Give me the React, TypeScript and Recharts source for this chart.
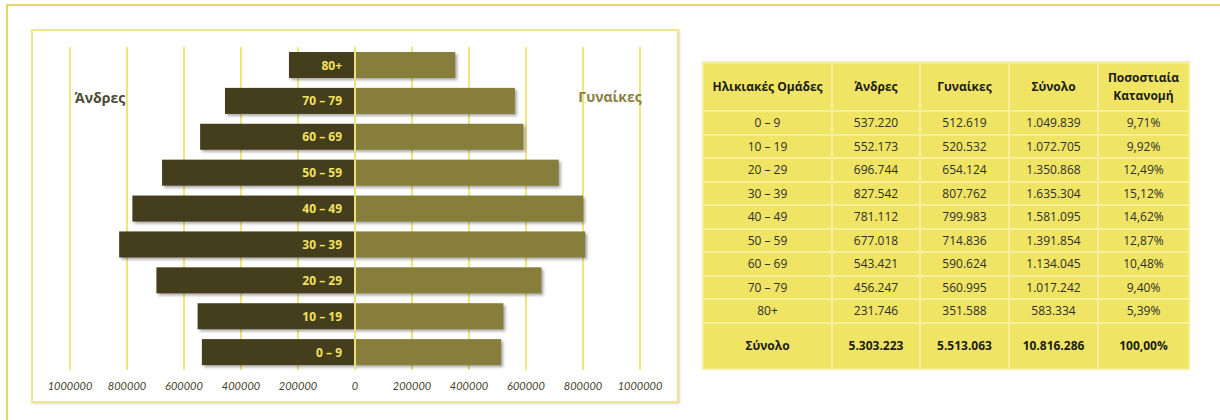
import { BarChart, Bar, XAxis, YAxis, CartesianGrid, ReferenceLine, LabelList } from 'recharts';

// Πληθυσμός ανά ηλικιακή ομάδα και φύλο
const ageGroups = ['0 – 9', '10 – 19', '20 – 29', '30 – 39', '40 – 49', '50 – 59', '60 – 69', '70 – 79', '80+'];
const men = [537220, 552173, 696744, 827542, 781112, 677018, 543421, 456247, 231746];
const women = [512619, 520532, 654124, 807762, 799983, 714836, 590624, 560995, 351588];
const totals = [1049839, 1072705, 1350868, 1635304, 1581095, 1391854, 1134045, 1017242, 583334];
const percents = ['9,71%', '9,92%', '12,49%', '15,12%', '14,62%', '12,87%', '10,48%', '9,40%', '5,39%'];
const grandTotals = ['5.303.223', '5.513.063', '10.816.286', '100,00%'];
const headers = ['Ηλικιακές Ομάδες', 'Άνδρες', 'Γυναίκες', 'Σύνολο', 'Ποσοστιαία Κατανομή'];
const xTicks = [-1000000, -800000, -600000, -400000, -200000, 0, 200000, 400000, 600000, 800000, 1000000];

const MEN = '#453e1d';
const WOMEN = '#877e3b';
const GRID = '#f0e47c';
const GREEK = '"Open Sans", "Noto Sans", sans-serif';

const data = ageGroups.map((age, i) => ({ age, men: -men[i], women: women[i] }));

const fmt = (n: number) => String(n).replace(/\B(?=(\d{3})+(?!\d))/g, '.');

function ShadowBar(props: any) {
  const { x, y, width, height, fill } = props;
  const x0 = width < 0 ? x + width : x;
  return (
    <rect
      x={x0}
      y={y}
      width={Math.abs(width)}
      height={height}
      fill={fill}
      style={{ filter: 'drop-shadow(2px 2px 1.5px rgba(0,0,0,0.35))' }}
    />
  );
}

function AgeLabel(props: any) {
  const { x, y, width, height, value } = props;
  const right = Math.max(x, x + width);
  return (
    <text
      x={right - 13}
      y={y + height / 2}
      textAnchor="end"
      dominantBaseline="central"
      fill="#f3e35c"
      fontFamily={GREEK}
      fontWeight={700}
      fontSize={12}
    >
      {value}
    </text>
  );
}

const cell: React.CSSProperties = {
  border: '2px solid #f7ee9c',
  textAlign: 'center',
  padding: 0,
  color: '#2e2e2a',
};

export default function App() {
  return (
    <div style={{ position: 'absolute', left: 0, top: 0, width: 1220, height: 420, overflow: 'hidden', background: '#fff' }}>
      {/* outer frame */}
      <div style={{ position: 'absolute', left: 6, top: 4, width: 1214, height: 2, background: '#e2d56a' }} />
      <div style={{ position: 'absolute', left: 6, top: 4, width: 2, height: 416, background: '#e2d56a' }} />
      {/* chart box */}
      <div
        style={{
          position: 'absolute',
          left: 31,
          top: 29,
          width: 644,
          height: 370,
          border: '2px solid #efe58c',
          boxShadow: '1px 1px 2px rgba(0,0,0,0.15)',
        }}
      />
      <div style={{ position: 'absolute', left: 0, top: 0 }}>
        <BarChart
          width={1220}
          height={420}
          data={data}
          layout="vertical"
          stackOffset="sign"
          barSize={26}
          margin={{ top: 47, bottom: 20, left: 70, right: 580 }}
        >
          <CartesianGrid horizontal={false} stroke={GRID} strokeWidth={2} />
          <XAxis
            type="number"
            domain={[-1000000, 1000000]}
            ticks={xTicks}
            allowDataOverflow
            axisLine={false}
            tickLine={false}
            tickMargin={6}
            height={30}
            tickFormatter={(v: number) => String(Math.abs(v))}
            tick={{ fontSize: 11, fontStyle: 'italic', fontFamily: 'Lato, "Open Sans", sans-serif', fill: '#45402a' }}
          />
          <YAxis type="category" dataKey="age" reversed hide />
          <Bar dataKey="men" stackId="a" fill={MEN} shape={<ShadowBar />} isAnimationActive={false}>
            <LabelList dataKey="age" content={<AgeLabel />} />
          </Bar>
          <Bar dataKey="women" stackId="a" fill={WOMEN} shape={<ShadowBar />} isAnimationActive={false} />
          <ReferenceLine x={0} stroke="#ece07e" strokeWidth={2} />
        </BarChart>
      </div>
      <div
        style={{
          position: 'absolute',
          left: 70,
          top: 88,
          width: 60,
          textAlign: 'center',
          fontFamily: GREEK,
          fontWeight: 700,
          fontSize: 14,
          color: '#4e4930',
        }}
      >
        Άνδρες
      </div>
      <div
        style={{
          position: 'absolute',
          left: 574,
          top: 87,
          width: 72,
          textAlign: 'center',
          fontFamily: GREEK,
          fontWeight: 700,
          fontSize: 14,
          color: '#8a8142',
        }}
      >
        Γυναίκες
      </div>
      {/* data table */}
      <table
        style={{
          position: 'absolute',
          left: 702,
          top: 62,
          width: 486,
          borderCollapse: 'collapse',
          tableLayout: 'fixed',
          background: '#f0e465',
          fontFamily: GREEK,
          fontSize: 12,
          boxShadow: '0 -1px 1px rgba(0,0,0,0.08)',
        }}
      >
        <colgroup>
          <col style={{ width: 129 }} />
          <col style={{ width: 88 }} />
          <col style={{ width: 89 }} />
          <col style={{ width: 89 }} />
          <col style={{ width: 91 }} />
        </colgroup>
        <tbody>
          <tr style={{ height: 48 }}>
            {headers.map((h, i) => (
              <td
                key={h}
                style={{
                  ...cell,
                  fontWeight: 700,
                  color: '#1c1c18',
                  lineHeight: '18px',
                  padding: i === 4 ? '0 8px' : 0,
                }}
              >
                {h}
              </td>
            ))}
          </tr>
          {ageGroups.map((age, i) => (
            <tr key={age} style={{ height: 23.5 }}>
              <td style={cell}>{age}</td>
              <td style={cell}>{fmt(men[i])}</td>
              <td style={cell}>{fmt(women[i])}</td>
              <td style={cell}>{fmt(totals[i])}</td>
              <td style={cell}>{percents[i]}</td>
            </tr>
          ))}
          <tr style={{ height: 46 }}>
            <td style={{ ...cell, fontWeight: 700, color: '#1c1c18' }}>Σύνολο</td>
            {grandTotals.map((t) => (
              <td key={t} style={{ ...cell, fontWeight: 700, color: '#1c1c18' }}>
                {t}
              </td>
            ))}
          </tr>
        </tbody>
      </table>
    </div>
  );
}
